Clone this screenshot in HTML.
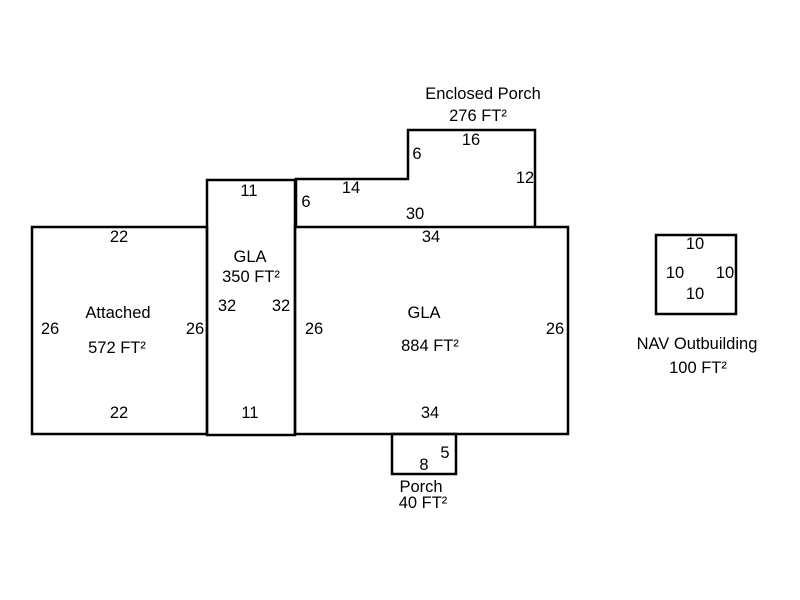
<!DOCTYPE html>
<html><head><style>body{margin:0;background:#fff}svg{display:block}</style></head><body>
<svg width="800" height="600" xmlns="http://www.w3.org/2000/svg" font-family="Liberation Sans, Arial, sans-serif" font-size="16.5" fill="#000">
<g fill="none" stroke="#000" stroke-width="2.5">
<rect x="32" y="227" width="175" height="207"/>
<rect x="207" y="180" width="88" height="255"/>
<rect x="295" y="227" width="273" height="207"/>
<polyline points="296,227 296,179 408,179 408,130 535,130 535,227"/>
<rect x="392" y="434" width="64" height="40"/>
<rect x="656" y="235" width="80" height="79"/>
</g>
<g text-anchor="middle">
<text x="483" y="99">Enclosed Porch</text>
<text x="478" y="121">276 FT²</text>
<text x="471" y="145">16</text>
<text x="417" y="159">6</text>
<text x="525" y="183">12</text>
<text x="351" y="193">14</text>
<text x="306" y="207">6</text>
<text x="415" y="219">30</text>
<text x="249" y="196">11</text>
<text x="119" y="242">22</text>
<text x="431" y="242">34</text>
<text x="250" y="262">GLA</text>
<text x="251" y="282">350 FT²</text>
<text x="227" y="311">32</text>
<text x="281" y="311">32</text>
<text x="118" y="318">Attached</text>
<text x="50" y="334">26</text>
<text x="195" y="334">26</text>
<text x="314" y="334">26</text>
<text x="555" y="334">26</text>
<text x="424" y="318">GLA</text>
<text x="430" y="351">884 FT²</text>
<text x="117" y="353">572 FT²</text>
<text x="119" y="418">22</text>
<text x="250" y="418">11</text>
<text x="430" y="418">34</text>
<text x="445" y="458">5</text>
<text x="424" y="470">8</text>
<text x="421" y="492">Porch</text>
<text x="423" y="508">40 FT²</text>
<text x="695" y="249">10</text>
<text x="675" y="278">10</text>
<text x="725" y="278">10</text>
<text x="695" y="299">10</text>
<text x="697" y="349">NAV Outbuilding</text>
<text x="698" y="373">100 FT²</text>
</g>
</svg>
</body></html>
